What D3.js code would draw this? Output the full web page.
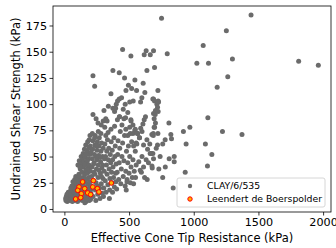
<!DOCTYPE html>
<html>
<head>
<meta charset="utf-8">
<script src="https://cdn.jsdelivr.net/npm/d3@7"></script>
<style>
  body { margin: 0; background: #fff; }
  svg { display: block; font-family: "DejaVu Sans", sans-serif; }
</style>
</head>
<body>
<div id="chart"></div>
<script>
// values: [effective cone tip resistance, undrained shear strength] in kPa
var clayPoints = [
  [12,8],[18,10],[22,7],[28,12],[33,9],[38,14],[42,8],[47,11],[52,16],[55,9],[60,13],[63,19],[68,10],[72,15],[75,22],[78,8],[82,12],[86,18],[90,25],[93,10],[96,14],[99,21],[15,12],[25,9],[35,11],[45,17],[58,22],[66,26],[80,28],[88,31],[95,28],[30,16],[50,20],[70,12],[40,10],[85,9],[62,7],[20,14],[10,10],[48,13],
  [102,7],[105,12],[108,18],[110,26],[112,33],[115,9],[118,15],[120,22],[123,38],[126,11],[128,29],[130,17],[133,24],[135,35],[138,8],[140,13],[142,20],[145,30],[148,40],[150,10],[152,16],[155,26],[157,33],[160,12],[162,21],[165,37],[168,7],[170,15],[172,28],[175,19],[178,34],[180,11],[182,24],[185,39],[188,14],[190,30],[192,8],[195,20],[198,26],[200,36],[104,29],[116,31],[136,27],[146,23],[158,6],[174,9],[186,18],[196,12],[124,19],[164,29],
  [105,42],[115,46],[125,44],[130,50],[138,47],[145,53],[150,45],[155,57],[160,49],[165,61],[170,43],[175,55],[180,64],[185,48],[188,58],[192,66],[196,52],[200,60],[140,41],[158,42],[178,46],[120,40],[168,52],[190,42],[198,70],
  [202,9],[205,15],[208,22],[210,31],[213,40],[215,48],[218,57],[220,65],[222,12],[225,27],[228,35],[230,44],[232,52],[235,61],[238,70],[240,18],[243,8],[245,25],[248,38],[250,47],[252,56],[255,64],[258,14],[260,30],[262,42],[265,51],[268,60],[270,68],[272,20],[275,10],[278,34],[280,45],[282,55],[285,24],[288,63],[290,39],[292,15],[295,50],[298,29],[300,58],[212,19],[226,43],[236,33],[246,60],[256,22],[266,37],[276,49],[286,31],[296,42],[206,54],[216,72],[234,68],[262,74],[282,72],[244,50],
  [302,12],[305,20],[308,36],[310,48],[313,62],[316,27],[320,70],[322,16],[325,42],[328,55],[330,33],[333,66],[336,23],[340,47],[343,58],[346,38],[350,18],[352,29],[355,52],[358,44],[360,76],[362,64],[365,35],[368,25],[370,56],[373,47],[376,40],[380,30],[383,68],[386,21],[390,50],[393,60],[396,34],[400,43],[318,50],[338,73],[348,10],[372,16],[388,79],[312,78],[330,84],[320,86],[306,94],[398,26],
  [404,19],[408,35],[412,52],[415,65],[420,28],[424,44],[428,58],[432,74],[436,24],[440,38],[445,50],[450,63],[455,31],[460,46],[465,70],[470,22],[475,36],[480,55],[485,28],[490,44],[495,60],[500,34],[505,50],[510,25],[515,40],[520,64],[525,30],[530,47],[540,36],[548,55],[410,85],[425,88],[445,80],[460,86],[475,76],[490,70],[505,78],[515,84],[530,72],[545,75],[478,18],[484,26],[535,24],[550,30],[555,42],
  [560,62],[565,72],[580,68],[555,63],[590,77],[600,74],[607,81],[617,85],[627,88],[612,61],[632,47],[643,57],[650,44],[663,53],[676,71],[679,39],[689,48],[586,37],[612,40],[638,66],[600,50],[620,30],[575,45],[595,35],[640,28],[660,62],[684,105],[697,103],[715,100],[720,97],[704,94],[689,91],[694,86],[704,82],[697,78],[725,103],[723,113],[689,105],[728,102],[725,93],[702,90],[694,78],[723,72],[687,72],[687,70],[720,61],[671,53],[684,53],[677,41],[710,58],
  [221,127],[234,117],[221,90],[375,132],[424,130],[450,152],[514,146],[545,123],[558,113],[476,113],[442,106],[424,105],[411,103],[401,100],[396,96],[388,93],[427,88],[473,87],[514,85],[530,80],[548,76],[566,72],[509,72],[581,68],[535,60],[609,120],[622,111],[599,106],[589,102],[532,103],[617,147],[632,151],[664,147],[689,151],[638,132],[697,135],[340,98],[360,110],[375,96],[455,95],[470,100],[490,92],[505,102],[520,115],[495,118],[465,125],[300,84],[285,80],[260,82],[245,86],
  [751,182],[1443,185],[1252,170],[1073,156],[795,148],[1024,139],[1114,139],[1299,143],[1811,141],[1963,137],[1263,126],[1181,116],[1109,87],[808,82],[970,78],[920,74],[1222,74],[1373,71],[823,71],[779,66],[828,67],[941,62],[1090,62],[1140,52],[810,48],[849,50],[849,45],[1106,41],[934,35],[841,20],[760,62],[780,40],[760,30],[740,50],[730,38]
];

var boerspolderPoints = [
  [141,25.8],[224,27],[113,21],[103,17.8],[157,19.4],[219,21],[255,19.4],[180,15.3],[203,13.7],[267,16.2],[131,14.6],[126,10.8],[87,9.5],[363,24.8]
];

var legendLabels = ["CLAY/6/535", "Leendert de Boerspolder"];
var xTicks = [0, 500, 1000, 1500, 2000];
var yTicks = [0, 25, 50, 75, 100, 125, 150, 175];

var width = 336,
    height = 248;
var margin = {top: 6, right: 5, bottom: 36, left: 53};
var plotW = width - margin.left - margin.right,
    plotH = height - margin.top - margin.bottom;

var svg = d3.select("#chart")
  .append("svg")
  .attr("width", width)
  .attr("height", height);

var g = svg.append("g")
  .attr("transform", "translate(" + margin.left + "," + margin.top + ")");

var x = d3.scaleLinear().domain([-88, 2061]).range([0, plotW]);
var y = d3.scaleLinear().domain([-2.9, 193.6]).range([plotH, 0]);

var siteFill = "#ffb300";

// gray cloud first, then the site on top
g.selectAll(".clay")
  .data(clayPoints)
  .enter().append("circle")
  .attr("class", "clay")
  .attr("cx", function(d) { return x(d[0]); })
  .attr("cy", function(d) { return y(d[1]); })
  .attr("r", 2.5)
  .attr("fill", "#6b6b6b");

g.selectAll(".site")
  .data(boerspolderPoints)
  .enter().append("circle")
  .attr("class", "site")
  .attr("cx", function(d) { return x(d[0]); })
  .attr("cy", function(d) { return y(d[1]); })
  .attr("r", 2.3)
  .attr("fill", siteFill)
  .attr("stroke", "red")
  .attr("stroke-width", 1);

// axes
var xAxis = g.append("g")
  .attr("transform", "translate(0," + plotH + ")")
  .call(d3.axisBottom(x).tickValues(xTicks).tickFormat(d3.format("d")).tickSize(3.5).tickPadding(2.5));
var yAxis = g.append("g")
  .call(d3.axisLeft(y).tickValues(yTicks).tickFormat(d3.format("d")).tickSize(3.5).tickPadding(2.5));

[xAxis, yAxis].forEach(function(a) {
  a.select(".domain").remove();
  a.selectAll("text").attr("font-size", 11.2).attr("font-family", "DejaVu Sans").attr("fill", "#000");
  a.selectAll("line").attr("stroke", "#000").attr("stroke-width", 0.8);
});

g.append("rect")
  .attr("width", plotW)
  .attr("height", plotH)
  .attr("fill", "none")
  .attr("stroke", "#000")
  .attr("stroke-width", 0.8);

svg.append("text")
  .attr("x", margin.left + plotW / 2)
  .attr("y", 241.5)
  .attr("text-anchor", "middle")
  .attr("font-size", 11.5)
  .text("Effective Cone Tip Resistance (kPa)");

svg.append("text")
  .attr("transform", "translate(20," + (margin.top + plotH / 2) + ") rotate(-90)")
  .attr("text-anchor", "middle")
  .attr("font-size", 11.5)
  .text("Undrained Shear Strength (kPa)");

// legend
var legend = svg.append("g").attr("transform", "translate(177,178)");
legend.append("rect")
  .attr("width", 148)
  .attr("height", 29)
  .attr("rx", 2)
  .attr("fill", "#fff")
  .attr("fill-opacity", 0.8)
  .attr("stroke", "#cccccc")
  .attr("stroke-width", 0.8);

legendLabels.forEach(function(label, i) {
  var row = legend.append("g").attr("transform", "translate(0," + (8 + i * 13) + ")");
  var m = row.append("circle").attr("cx", 13).attr("cy", 0).attr("r", 2.2);
  if (i === 0) {
    m.attr("fill", "#6b6b6b");
  } else {
    m.attr("fill", siteFill).attr("stroke", "red").attr("stroke-width", 1);
  }
  row.append("text")
    .attr("x", 30)
    .attr("y", 3.4)
    .attr("font-size", 9.3)
    .text(label);
});
</script>
</body>
</html>
